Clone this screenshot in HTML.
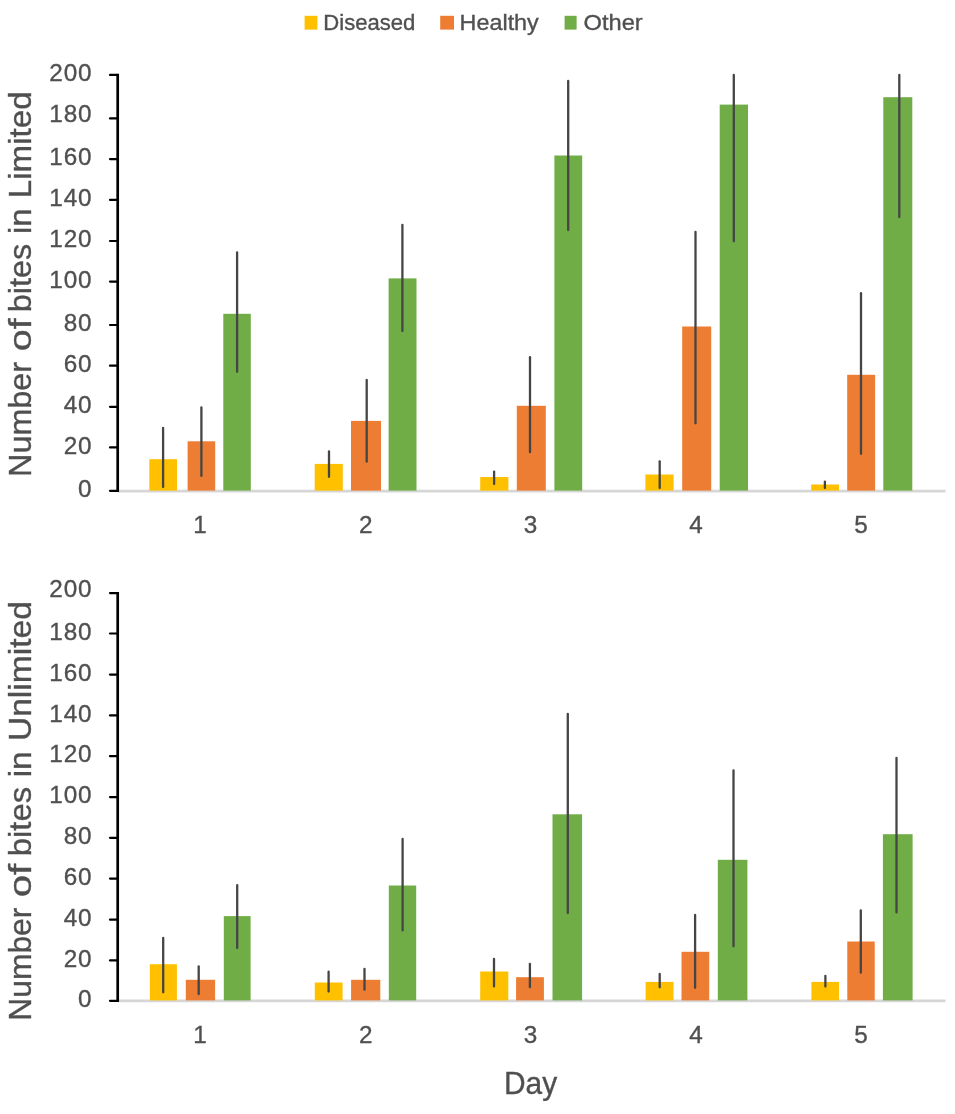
<!DOCTYPE html>
<html lang="en"><head><meta charset="utf-8"><title>Number of bites per day</title>
<style>html,body{margin:0;padding:0;background:#fff;overflow:hidden}svg{display:block}text{font-family:"Liberation Sans", sans-serif;fill:#505050;stroke:#505050;stroke-width:0.35px}</style>
</head><body>
<svg width="955" height="1114" viewBox="0 0 955 1114">
<rect x="0" y="0" width="955" height="1114" fill="#ffffff"/>
<defs><filter id="soft" x="0" y="0" width="955" height="1114" filterUnits="userSpaceOnUse"><feGaussianBlur stdDeviation="0.55"/></filter></defs>
<g id="chart" filter="url(#soft)">
<g id="legend" font-size="21.8">
<rect x="304.6" y="15.8" width="12.8" height="13.8" fill="#FFC000"/>
<text x="323.3" y="30.1" textLength="92" lengthAdjust="spacingAndGlyphs">Diseased</text>
<rect x="440.2" y="15.8" width="13.8" height="13.8" fill="#ED7D31"/>
<text x="459.6" y="30.1" textLength="79.2" lengthAdjust="spacingAndGlyphs">Healthy</text>
<rect x="564.6" y="15.8" width="12" height="13.8" fill="#70AD47"/>
<text x="583.5" y="30.1" textLength="59.2" lengthAdjust="spacingAndGlyphs">Other</text>
</g>
<g id="limited">
<line x1="118" y1="491.1" x2="945.5" y2="491.1" stroke="#D6D6D6" stroke-width="2.6"/>
<rect x="149.3" y="459.2" width="27.7" height="31.4" fill="#FFC000"/>
<rect x="187.6" y="441.3" width="27.6" height="49.3" fill="#ED7D31"/>
<rect x="223.3" y="313.8" width="27.5" height="176.8" fill="#70AD47"/>
<rect x="314.7" y="463.9" width="28.1" height="26.7" fill="#FFC000"/>
<rect x="351" y="420.9" width="30" height="69.7" fill="#ED7D31"/>
<rect x="388.6" y="278.4" width="27.9" height="212.2" fill="#70AD47"/>
<rect x="480.2" y="477" width="28.2" height="13.6" fill="#FFC000"/>
<rect x="516.8" y="405.8" width="29" height="84.8" fill="#ED7D31"/>
<rect x="554.4" y="155.5" width="27.8" height="335.1" fill="#70AD47"/>
<rect x="645.4" y="474.5" width="28.2" height="16.1" fill="#FFC000"/>
<rect x="682.2" y="326.5" width="29" height="164.1" fill="#ED7D31"/>
<rect x="719.7" y="104.6" width="28.3" height="386" fill="#70AD47"/>
<rect x="811.2" y="484.5" width="27.8" height="6.1" fill="#FFC000"/>
<rect x="847.2" y="374.8" width="27.9" height="115.8" fill="#ED7D31"/>
<rect x="883.3" y="97.2" width="29" height="393.4" fill="#70AD47"/>
<line x1="163.1" y1="427.9" x2="163.1" y2="487.1" stroke="#454545" stroke-width="2.3" stroke-linecap="round"/>
<line x1="201.4" y1="407.5" x2="201.4" y2="475.9" stroke="#454545" stroke-width="2.3" stroke-linecap="round"/>
<line x1="237.1" y1="252.4" x2="237.1" y2="371.8" stroke="#454545" stroke-width="2.3" stroke-linecap="round"/>
<line x1="329" y1="451.5" x2="329" y2="476.8" stroke="#454545" stroke-width="2.3" stroke-linecap="round"/>
<line x1="366.7" y1="379.9" x2="366.7" y2="461.7" stroke="#454545" stroke-width="2.3" stroke-linecap="round"/>
<line x1="402.4" y1="224.8" x2="402.4" y2="331" stroke="#454545" stroke-width="2.3" stroke-linecap="round"/>
<line x1="494.1" y1="471.6" x2="494.1" y2="484.1" stroke="#454545" stroke-width="2.3" stroke-linecap="round"/>
<line x1="530" y1="357.2" x2="530" y2="452.2" stroke="#454545" stroke-width="2.3" stroke-linecap="round"/>
<line x1="568.2" y1="81" x2="568.2" y2="230" stroke="#454545" stroke-width="2.3" stroke-linecap="round"/>
<line x1="659.7" y1="461.3" x2="659.7" y2="488.1" stroke="#454545" stroke-width="2.3" stroke-linecap="round"/>
<line x1="695.5" y1="231.9" x2="695.5" y2="423.3" stroke="#454545" stroke-width="2.3" stroke-linecap="round"/>
<line x1="733.8" y1="75" x2="733.8" y2="241.3" stroke="#454545" stroke-width="2.3" stroke-linecap="round"/>
<line x1="824.9" y1="481.6" x2="824.9" y2="488" stroke="#454545" stroke-width="2.3" stroke-linecap="round"/>
<line x1="861" y1="293.2" x2="861" y2="453.8" stroke="#454545" stroke-width="2.3" stroke-linecap="round"/>
<line x1="899.3" y1="75" x2="899.3" y2="217.1" stroke="#454545" stroke-width="2.3" stroke-linecap="round"/>
<line x1="117.7" y1="73.8" x2="117.7" y2="491.9" stroke="#000" stroke-width="2.7"/>
<line x1="110" y1="74.9" x2="117" y2="74.9" stroke="#000" stroke-width="2.2" stroke-linecap="round"/>
<line x1="110" y1="118.4" x2="117" y2="118.4" stroke="#000" stroke-width="2.2" stroke-linecap="round"/>
<line x1="110" y1="159.1" x2="117" y2="159.1" stroke="#000" stroke-width="2.2" stroke-linecap="round"/>
<line x1="110" y1="199.9" x2="117" y2="199.9" stroke="#000" stroke-width="2.2" stroke-linecap="round"/>
<line x1="110" y1="241" x2="117" y2="241" stroke="#000" stroke-width="2.2" stroke-linecap="round"/>
<line x1="110" y1="281.6" x2="117" y2="281.6" stroke="#000" stroke-width="2.2" stroke-linecap="round"/>
<line x1="110" y1="325" x2="117" y2="325" stroke="#000" stroke-width="2.2" stroke-linecap="round"/>
<line x1="110" y1="365.7" x2="117" y2="365.7" stroke="#000" stroke-width="2.2" stroke-linecap="round"/>
<line x1="110" y1="406.8" x2="117" y2="406.8" stroke="#000" stroke-width="2.2" stroke-linecap="round"/>
<line x1="110" y1="447.4" x2="117" y2="447.4" stroke="#000" stroke-width="2.2" stroke-linecap="round"/>
<line x1="110" y1="490.8" x2="117" y2="490.8" stroke="#000" stroke-width="2.2" stroke-linecap="round"/>
<g font-size="24.3" text-anchor="end" letter-spacing="0.9">
<text x="92.5" y="81.1">200</text>
<text x="92.5" y="121.6">180</text>
<text x="92.5" y="165.3">160</text>
<text x="92.5" y="206.1">140</text>
<text x="92.5" y="247.2">120</text>
<text x="92.5" y="287.8">100</text>
<text x="92.5" y="331.2">80</text>
<text x="92.5" y="371.9">60</text>
<text x="92.5" y="413">40</text>
<text x="92.5" y="453.6">20</text>
<text x="92.5" y="497">0</text>
</g>
<g font-size="24.3" text-anchor="middle">
<text x="200" y="532.8">1</text>
<text x="365.8" y="532.8">2</text>
<text x="530.5" y="532.8">3</text>
<text x="695.9" y="532.8">4</text>
<text x="861" y="532.8">5</text>
</g>
<text font-size="30.7" transform="translate(31.4 476.9) rotate(-90)"><tspan x="-0" textLength="114.99" lengthAdjust="spacingAndGlyphs">Number</tspan> <tspan x="125.6" textLength="33" lengthAdjust="spacingAndGlyphs">of</tspan> <tspan x="164.7" textLength="68.33" lengthAdjust="spacingAndGlyphs">bites</tspan> <tspan x="242.8" textLength="25.64" lengthAdjust="spacingAndGlyphs">in</tspan> <tspan x="278.7" textLength="106.82" lengthAdjust="spacingAndGlyphs">Limited</tspan></text>
</g>
<g id="unlimited">
<line x1="118" y1="1000.9" x2="945.5" y2="1000.9" stroke="#D6D6D6" stroke-width="2.6"/>
<rect x="149.8" y="964.2" width="27.1" height="36.2" fill="#FFC000"/>
<rect x="185.8" y="979.8" width="29.3" height="20.6" fill="#ED7D31"/>
<rect x="223.8" y="916.1" width="26.8" height="84.3" fill="#70AD47"/>
<rect x="314.8" y="982.5" width="27.8" height="17.9" fill="#FFC000"/>
<rect x="351.1" y="979.8" width="29.2" height="20.6" fill="#ED7D31"/>
<rect x="388.8" y="885.5" width="27.4" height="114.9" fill="#70AD47"/>
<rect x="480.2" y="971.5" width="28.1" height="28.9" fill="#FFC000"/>
<rect x="516.1" y="977.2" width="27.8" height="23.2" fill="#ED7D31"/>
<rect x="552.5" y="814.3" width="29.6" height="186.1" fill="#70AD47"/>
<rect x="645.6" y="981.9" width="27.9" height="18.5" fill="#FFC000"/>
<rect x="681.5" y="951.8" width="27.7" height="48.6" fill="#ED7D31"/>
<rect x="717.8" y="859.8" width="29.6" height="140.6" fill="#70AD47"/>
<rect x="811.4" y="981.9" width="27.6" height="18.5" fill="#FFC000"/>
<rect x="847.3" y="941.5" width="27.4" height="58.9" fill="#ED7D31"/>
<rect x="882.9" y="834.2" width="29.7" height="166.2" fill="#70AD47"/>
<line x1="163.2" y1="938" x2="163.2" y2="992.3" stroke="#454545" stroke-width="2.3" stroke-linecap="round"/>
<line x1="198.7" y1="966.4" x2="198.7" y2="994" stroke="#454545" stroke-width="2.3" stroke-linecap="round"/>
<line x1="237.2" y1="885.2" x2="237.2" y2="947.9" stroke="#454545" stroke-width="2.3" stroke-linecap="round"/>
<line x1="328.6" y1="971.7" x2="328.6" y2="991.5" stroke="#454545" stroke-width="2.3" stroke-linecap="round"/>
<line x1="364.5" y1="969" x2="364.5" y2="989.7" stroke="#454545" stroke-width="2.3" stroke-linecap="round"/>
<line x1="402.6" y1="838.9" x2="402.6" y2="930.4" stroke="#454545" stroke-width="2.3" stroke-linecap="round"/>
<line x1="494" y1="958.9" x2="494" y2="986.4" stroke="#454545" stroke-width="2.3" stroke-linecap="round"/>
<line x1="529.9" y1="963.8" x2="529.9" y2="987.2" stroke="#454545" stroke-width="2.3" stroke-linecap="round"/>
<line x1="567.8" y1="713.8" x2="567.8" y2="913.1" stroke="#454545" stroke-width="2.3" stroke-linecap="round"/>
<line x1="659.7" y1="974" x2="659.7" y2="987.3" stroke="#454545" stroke-width="2.3" stroke-linecap="round"/>
<line x1="695.1" y1="915" x2="695.1" y2="987.8" stroke="#454545" stroke-width="2.3" stroke-linecap="round"/>
<line x1="733.5" y1="770.5" x2="733.5" y2="946.3" stroke="#454545" stroke-width="2.3" stroke-linecap="round"/>
<line x1="825.4" y1="975.8" x2="825.4" y2="986.5" stroke="#454545" stroke-width="2.3" stroke-linecap="round"/>
<line x1="860.8" y1="910.5" x2="860.8" y2="972.7" stroke="#454545" stroke-width="2.3" stroke-linecap="round"/>
<line x1="896.5" y1="758" x2="896.5" y2="912.4" stroke="#454545" stroke-width="2.3" stroke-linecap="round"/>
<line x1="117.7" y1="592" x2="117.7" y2="1001.9" stroke="#000" stroke-width="2.7"/>
<line x1="110" y1="593.1" x2="117" y2="593.1" stroke="#000" stroke-width="2.2" stroke-linecap="round"/>
<line x1="110" y1="633.5" x2="117" y2="633.5" stroke="#000" stroke-width="2.2" stroke-linecap="round"/>
<line x1="110" y1="674.6" x2="117" y2="674.6" stroke="#000" stroke-width="2.2" stroke-linecap="round"/>
<line x1="110" y1="715.4" x2="117" y2="715.4" stroke="#000" stroke-width="2.2" stroke-linecap="round"/>
<line x1="110" y1="756.2" x2="117" y2="756.2" stroke="#000" stroke-width="2.2" stroke-linecap="round"/>
<line x1="110" y1="797.1" x2="117" y2="797.1" stroke="#000" stroke-width="2.2" stroke-linecap="round"/>
<line x1="110" y1="837.8" x2="117" y2="837.8" stroke="#000" stroke-width="2.2" stroke-linecap="round"/>
<line x1="110" y1="878.6" x2="117" y2="878.6" stroke="#000" stroke-width="2.2" stroke-linecap="round"/>
<line x1="110" y1="919.7" x2="117" y2="919.7" stroke="#000" stroke-width="2.2" stroke-linecap="round"/>
<line x1="110" y1="960.4" x2="117" y2="960.4" stroke="#000" stroke-width="2.2" stroke-linecap="round"/>
<line x1="110" y1="1000.8" x2="117" y2="1000.8" stroke="#000" stroke-width="2.2" stroke-linecap="round"/>
<g font-size="24.3" text-anchor="end" letter-spacing="0.9">
<text x="92.5" y="596.6">200</text>
<text x="92.5" y="639.7">180</text>
<text x="92.5" y="680.8">160</text>
<text x="92.5" y="721.6">140</text>
<text x="92.5" y="762.4">120</text>
<text x="92.5" y="803.3">100</text>
<text x="92.5" y="844">80</text>
<text x="92.5" y="884.8">60</text>
<text x="92.5" y="925.9">40</text>
<text x="92.5" y="966.6">20</text>
<text x="92.5" y="1007">0</text>
</g>
<g font-size="24.3" text-anchor="middle">
<text x="200" y="1042.8">1</text>
<text x="365.8" y="1042.8">2</text>
<text x="530.5" y="1042.8">3</text>
<text x="695.9" y="1042.8">4</text>
<text x="861" y="1042.8">5</text>
</g>
<text font-size="30.7" transform="translate(31.4 1020.7) rotate(-90)"><tspan x="0" textLength="113.1" lengthAdjust="spacingAndGlyphs">Number</tspan> <tspan x="123.4" textLength="33.63" lengthAdjust="spacingAndGlyphs">of</tspan> <tspan x="164.5" textLength="69.39" lengthAdjust="spacingAndGlyphs">bites</tspan> <tspan x="243.4" textLength="25.97" lengthAdjust="spacingAndGlyphs">in</tspan> <tspan x="279.6" textLength="139.94" lengthAdjust="spacingAndGlyphs">Unlimited</tspan></text>
</g>
<text font-size="30.7" text-anchor="middle" x="530.6" y="1093.6" textLength="53.2" lengthAdjust="spacingAndGlyphs">Day</text>
</g>
</svg>
</body></html>
